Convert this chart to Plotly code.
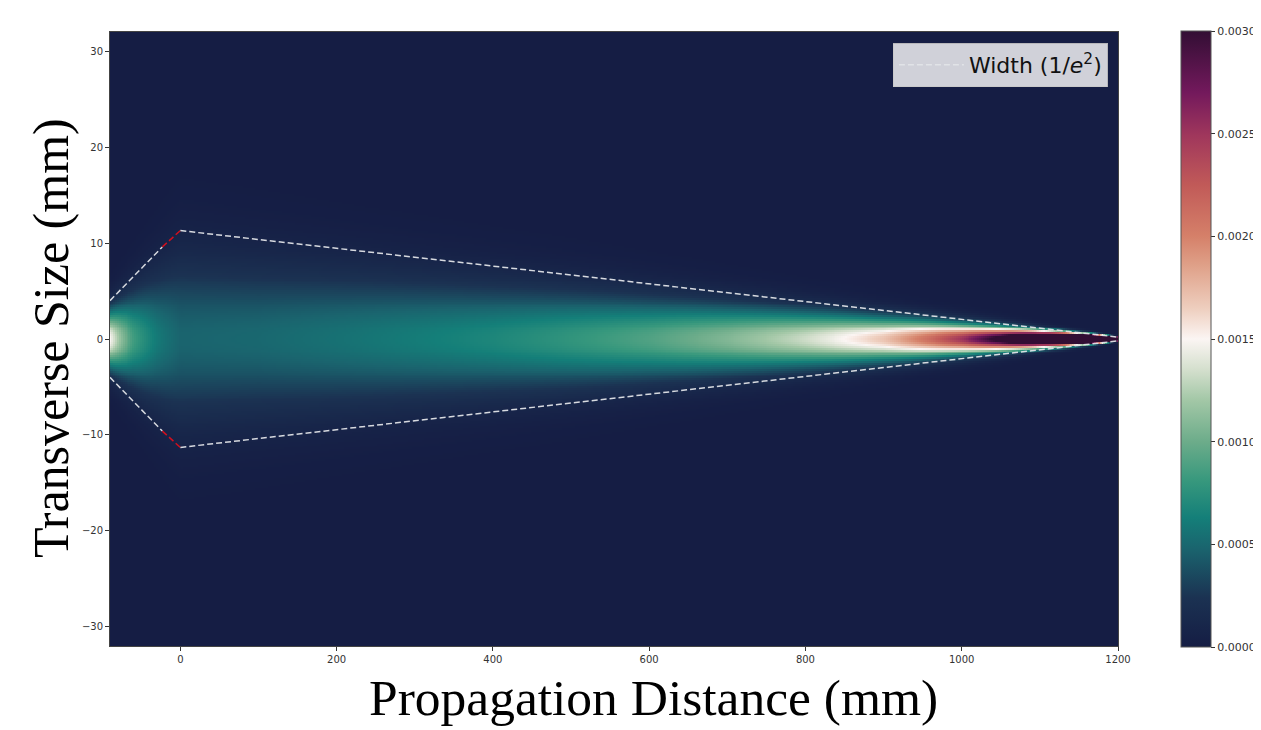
import numpy as np
import plotly.graph_objects as go

# ---- data ----
z_knots = [-90, -75, -60, -30, 0, 100, 200, 300, 400, 500, 600, 700, 800, 900, 1000, 1050, 1100, 1150, 1200]
width_knots = [4.0, 5.2, 6.4, 8.9, 11.3, 10.4, 9.45, 8.5, 7.6, 6.7, 5.75, 4.8, 3.9, 3.0, 2.05, 1.6, 1.1, 0.65, 0.2]
peak_knots = [0.0015, 0.0011, 0.00085, 0.0006, 0.00048, 0.0005, 0.00055, 0.00061, 0.00068, 0.00078,
              0.0009, 0.00108, 0.00133, 0.0017, 0.0025, 0.0032, 0.0045, 0.0075, 0.02]

# 1/e^2 width envelope: diverging part, lens part (red), converging part
div_z = [-90, -23]
div_w = [4.0, 9.6]
red_z = [-23, 0]
red_w = [9.6, 11.3]
conv_z = [0, 1200]
conv_w = [11.3, 0.2]

x_ticks = [0, 200, 400, 600, 800, 1000, 1200]
y_ticks = [-30, -20, -10, 0, 10, 20, 30]
cb_ticks = [0.0, 0.0005, 0.0010, 0.0015, 0.0020, 0.0025, 0.0030]

# ---- field grid ----
zg = np.linspace(-90, 1200, 520)
yg = np.linspace(-32, 32, 321)
wz = np.interp(zg, z_knots, width_knots)
pz = np.exp(np.interp(zg, z_knots, np.log(peak_knots)))
field = pz[None, :] * np.exp(-2 * (yg[:, None] ** 2) / (wz[None, :] ** 2))

curl = [
    [0.00, "rgb(21,29,68)"], [0.08, "rgb(27,50,82)"], [0.16, "rgb(26,100,110)"],
    [0.21, "rgb(20,127,121)"], [0.27, "rgb(55,152,125)"], [0.333, "rgb(108,172,138)"],
    [0.40, "rgb(162,199,166)"], [0.45, "rgb(212,223,205)"], [0.50, "rgb(251,245,243)"],
    [0.55, "rgb(238,206,190)"], [0.62, "rgb(223,160,136)"], [0.667, "rgb(213,128,105)"],
    [0.75, "rgb(193,90,88)"], [0.83, "rgb(160,55,92)"], [0.90, "rgb(115,25,92)"],
    [1.00, "rgb(50,14,52)"],
]

fig = go.Figure()
fig.add_trace(go.Heatmap(
    x=zg, y=yg, z=field, zmin=0, zmax=0.003, colorscale=curl,
    showscale=True, hoverinfo="skip",
    colorbar=dict(
        x=1.0625, xanchor="left", y=0.5, yanchor="middle", len=1.003, lenmode="fraction",
        thickness=30, xpad=0, ypad=0, outlinewidth=1, outlinecolor="#555",
        tickvals=cb_ticks, tickformat=".4f", ticks="outside", ticklen=4,
        tickcolor="#333", tickfont=dict(family="DejaVu Sans", size=11, color="#333"),
    ),
))

dash_col = "rgba(225,228,232,0.95)"
dash = "6px,3px"
fig.add_trace(go.Scatter(x=conv_z, y=conv_w, mode="lines", name="Width (1/<i>e</i><sup>2</sup>)",
                         line=dict(color=dash_col, width=1.5, dash=dash), showlegend=True))
fig.add_trace(go.Scatter(x=conv_z, y=[-v for v in conv_w], mode="lines", showlegend=False,
                         line=dict(color=dash_col, width=1.5, dash=dash)))
fig.add_trace(go.Scatter(x=div_z, y=div_w, mode="lines", showlegend=False,
                         line=dict(color=dash_col, width=1.5, dash=dash)))
fig.add_trace(go.Scatter(x=div_z, y=[-v for v in div_w], mode="lines", showlegend=False,
                         line=dict(color=dash_col, width=1.5, dash=dash)))
fig.add_trace(go.Scatter(x=red_z, y=red_w, mode="lines", showlegend=False,
                         line=dict(color="#d0101e", width=1.5, dash=dash)))
fig.add_trace(go.Scatter(x=red_z, y=[-v for v in red_w], mode="lines", showlegend=False,
                         line=dict(color="#d0101e", width=1.5, dash=dash)))

tickfont = dict(family="DejaVu Sans", size=10, color="#333")
fig.update_layout(
    width=1253, height=722,
    margin=dict(l=102, r=143, t=24, b=84, autoexpand=False),
    paper_bgcolor="white", plot_bgcolor="rgb(21,29,68)",
    legend=dict(x=0.99, y=0.982, xanchor="right", yanchor="top", itemwidth=65,
                bgcolor="rgba(255,255,255,0.8)", bordercolor="rgba(200,200,200,0.9)", borderwidth=1,
                font=dict(family="DejaVu Sans", size=22, color="#111")),
    xaxis=dict(range=[-90, 1200], tickvals=x_ticks, ticks="outside", ticklen=4, tickcolor="#333",
               tickfont=tickfont, showgrid=False, zeroline=False, showline=True, linecolor="#444",
               mirror=True, automargin=False),
    yaxis=dict(range=[-32, 32], tickvals=y_ticks, ticks="outside", ticklen=4, tickcolor="#333",
               tickfont=tickfont, showgrid=False, zeroline=False, showline=True, linecolor="#444",
               mirror=True, automargin=False),
    annotations=[
        dict(text="Propagation Distance (mm)", xref="paper", yref="paper",
             x=0.5387, y=-0.0839, xanchor="center", yanchor="middle", showarrow=False,
             font=dict(family="Liberation Serif", size=51.5, color="black")),
        dict(text="Transverse Size (mm)", xref="paper", yref="paper", textangle=-90,
             x=-0.0585, y=0.5016, xanchor="center", yanchor="middle", showarrow=False,
             font=dict(family="Liberation Serif", size=50, color="black")),
    ],
)

fig.write_html("out.html")
